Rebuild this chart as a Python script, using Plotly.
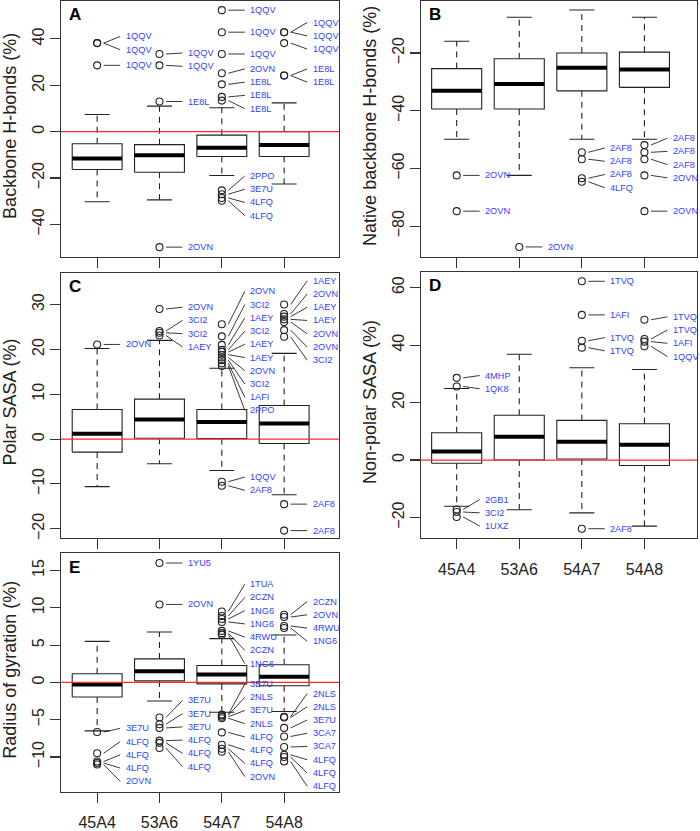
import plotly.graph_objects as go

categories = ["45A4", "53A6", "54A7", "54A8"]

# ---------- Panel A: Backbone H-bonds (%) ----------
A_low = [-30.2, -29.4, -18.9, -22.6]
A_q1 = [-16.3, -17.5, -10.7, -10.7]
A_med = [-11.6, -10.2, -6.9, -5.7]
A_q3 = [-5.2, -5.6, -1.5, 0.0]
A_high = [7.4, 11.0, 10.3, 12.4]
A_out = [[38.2, 38.2, 28.6],
         [33.5, 28.6, 13.0, -49.8],
         [52.4, 42.9, 33.5, 25.2, 20.4, 15.0, 13.4, -25.3, -27.0, -28.6, -29.8],
         [42.9, 42.9, 38.2, 24.2, 24.2]]
A_names = [["1QQV", "1QQV", "1QQV"],
           ["1QQV", "1QQV", "1E8L", "2OVN"],
           ["1QQV", "1QQV", "1QQV", "2OVN", "1E8L", "1E8L", "1E8L", "2PPO", "3E7U", "4LFQ", "4LFQ"],
           ["1QQV", "1QQV", "1QQV", "1E8L", "1E8L"]]

# ---------- Panel B: Native backbone H-bonds (%) ----------
B_low = [-49.9, -62.4, -49.9, -49.9]
B_q1 = [-39.4, -39.4, -33.1, -31.9]
B_med = [-33.1, -30.7, -25.1, -25.7]
B_q3 = [-25.4, -22.0, -20.0, -19.7]
B_high = [-15.9, -7.6, -5.1, -7.6]
B_out = [[-62.4, -74.8],
         [-87.2],
         [-54.4, -56.8, -63.4, -64.6],
         [-51.9, -54.4, -56.8, -62.4, -74.8]]
B_names = [["2OVN", "2OVN"],
           ["2OVN"],
           ["2AF8", "2AF8", "2AF8", "4LFQ"],
           ["2AF8", "2AF8", "2AF8", "2OVN", "2OVN"]]

# ---------- Panel C: Polar SASA (%) ----------
C_low = [-10.6, -5.5, -7.0, -12.4]
C_q1 = [-2.9, 0.2, 0.1, -1.0]
C_med = [1.2, 4.35, 3.8, 3.5]
C_q3 = [6.6, 8.9, 6.6, 7.5]
C_high = [20.2, 22.0, 15.8, 19.1]
C_out = [[21.1],
         [29.0, 24.1, 23.7, 23.1],
         [25.6, 22.9, 21.0, 19.9, 19.4, 18.8, 18.2, 17.6, 16.9, 16.3, -9.5, -10.4],
         [30.0, 27.9, 27.3, 26.7, 26.1, 24.3, 22.8, -14.5, -20.4]]
C_names = [["2OVN"],
           ["2OVN", "3CI2", "3CI2", "1AEY"],
           ["2OVN", "3CI2", "1AEY", "3CI2", "1AEY", "1AEY", "2OVN", "3CI2", "1AFI", "2PPO", "1QQV", "2AF8"],
           ["1AEY", "2OVN", "1AEY", "1AEY", "2OVN", "2OVN", "3CI2", "2AF8", "2AF8"]]

# ---------- Panel D: Non-polar SASA (%) ----------
D_low = [-16.1, -17.3, -18.4, -23.0]
D_q1 = [-1.1, 0.0, 0.35, -1.9]
D_med = [3.0, 8.1, 6.4, 5.3]
D_q3 = [9.5, 15.6, 13.8, 12.6]
D_high = [24.9, 36.8, 32.1, 31.5]
D_out = [[28.6, 25.6, -17.2, -18.1, -19.8],
         [],
         [62.2, 50.5, 41.5, 39.1, -23.9],
         [48.8, 42.1, 41.2, 39.6]]
D_names = [["4MHP", "1QK8", "2GB1", "3CI2", "1UXZ"],
           [],
           ["1TVQ", "1AFI", "1TVQ", "1TVQ", "2AF8"],
           ["1TVQ", "1TVQ", "1AFI", "1QQV"]]

# ---------- Panel E: Radius of gyration (%) ----------
E_low = [-6.5, -2.5, -4.0, -3.9]
E_q1 = [-1.95, 0.2, -0.2, -0.44]
E_med = [-0.27, 1.5, 1.07, 0.76]
E_q3 = [1.15, 3.15, 2.27, 2.36]
E_high = [5.5, 6.75, 5.87, 6.36]
E_out = [[-6.65, -9.5, -10.6, -10.8, -11.0],
         [16.0, 10.45, -4.7, -5.6, -6.1, -7.8, -8.1, -8.8],
         [9.5, 8.9, 8.5, 8.1, 6.9, 6.6, 6.4, -4.3, -4.4, -4.6, -4.8, -6.7, -8.35, -8.9, -9.3],
         [9.07, 8.76, 7.56, 7.3, -4.6, -4.7, -6.1, -7.25, -8.65, -9.7, -10.0, -10.6]]
E_names = [["3E7U", "4LFQ", "4LFQ", "4LFQ", "2OVN"],
           ["1YU5", "2OVN", "3E7U", "3E7U", "3E7U", "4LFQ", "4LFQ", "4LFQ"],
           ["1TUA", "2CZN", "1NG6", "1NG6", "4RWU", "2CZN", "1NG6",
            "3E7U", "2NLS", "3E7U", "2NLS", "4LFQ", "4LFQ", "4LFQ", "2OVN"],
           ["2CZN", "2OVN", "4RWU", "1NG6",
            "2NLS", "2NLS", "3E7U", "3CA7", "3CA7", "4LFQ", "4LFQ", "4LFQ"]]

W, H = 700, 831
FONT = "Liberation Sans, Arial, Helvetica, sans-serif"
LABEL_BLUE = "#2f3fff"

panels = [
    dict(key="A", title="Backbone H-bonds (%)", low=A_low, q1=A_q1, med=A_med, q3=A_q3, high=A_high,
         out=A_out, names=A_names, xpx=(61, 339), ypx=(1, 258), xr=(0.42, 4.88), yr=(-53.95, 56.35),
         yt=[-40, -20, 0, 20, 40], xlab=False),
    dict(key="B", title="Native backbone H-bonds (%)", low=B_low, q1=B_q1, med=B_med, q3=B_q3, high=B_high,
         out=B_out, names=B_names, xpx=(421, 697), ypx=(1, 258), xr=(0.43, 4.84), yr=(-90.6, -1.97),
         yt=[-80, -60, -40, -20], xlab=False),
    dict(key="C", title="Polar SASA (%)", low=C_low, q1=C_q1, med=C_med, q3=C_q3, high=C_high,
         out=C_out, names=C_names, xpx=(61, 339), ypx=(274, 541), xr=(0.42, 4.88), yr=(-22.14, 37.1),
         yt=[-20, -10, 0, 10, 20, 30], xlab=False),
    dict(key="D", title="Non-polar SASA (%)", low=D_low, q1=D_q1, med=D_med, q3=D_q3, high=D_high,
         out=D_out, names=D_names, xpx=(421, 697), ypx=(273, 541), xr=(0.43, 4.84), yr=(-27.27, 65.54),
         yt=[-20, 0, 20, 40, 60], xlab=True),
    dict(key="E", title="Radius of gyration (%)", low=E_low, q1=E_q1, med=E_med, q3=E_q3, high=E_high,
         out=E_out, names=E_names, xpx=(61, 339), ypx=(556, 796), xr=(0.42, 4.88), yr=(-14.71, 17.3),
         yt=[-10, -5, 0, 5, 10, 15], xlab=True),
]


def pack_labels(ys_px, d):
    """Spread label positions (screen px, increasing downward) with minimal spacing d,
    each cluster centred on the mean of its points."""
    order = sorted(range(len(ys_px)), key=lambda i: ys_px[i])
    clusters = []
    for i in order:
        clusters.append([ys_px[i]])
        while len(clusters) > 1:
            a, b = clusters[-2], clusters[-1]
            ca = sum(a) / len(a)
            cb = sum(b) / len(b)
            bottom_a = ca + (len(a) - 1) * d / 2
            top_b = cb - (len(b) - 1) * d / 2
            if top_b - bottom_a < d:
                clusters[-2] = a + b
                clusters.pop()
            else:
                break
    res = []
    for c in clusters:
        m = sum(c) / len(c)
        n = len(c)
        for k in range(n):
            res.append(m + (k - (n - 1) / 2) * d)
    out = [0] * len(ys_px)
    for pos, i in zip(res, order):
        out[i] = pos
    return out


fig = go.Figure()
annotations = []
shapes = []
layout = {}

BOXW = 0.4
CAPW = 0.2
SPACING = 13.3

for pi, p in enumerate(panels):
    n = pi + 1
    xa = "x" if n == 1 else f"x{n}"
    ya = "y" if n == 1 else f"y{n}"
    x0, x1 = p["xpx"]
    y0, y1 = p["ypx"]
    sx = (x1 - x0) / (p["xr"][1] - p["xr"][0])
    sy = (y1 - y0) / (p["yr"][1] - p["yr"][0])

    bx, by, mx, my, wx, wy, cx, cy = [], [], [], [], [], [], [], []
    for i in range(4):
        c = i + 1
        bx += [c - BOXW, c + BOXW, c + BOXW, c - BOXW, c - BOXW, None]
        by += [p["q1"][i], p["q1"][i], p["q3"][i], p["q3"][i], p["q1"][i], None]
        mx += [c - BOXW, c + BOXW, None]
        my += [p["med"][i], p["med"][i], None]
        wx += [c, c, None, c, c, None]
        wy += [p["q3"][i], p["high"][i], None, p["q1"][i], p["low"][i], None]
        cx += [c - CAPW, c + CAPW, None, c - CAPW, c + CAPW, None]
        cy += [p["high"][i], p["high"][i], None, p["low"][i], p["low"][i], None]

    common = dict(xaxis=xa, yaxis=ya, showlegend=False, hoverinfo="skip")
    fig.add_trace(go.Scatter(x=wx, y=wy, mode="lines", line=dict(color="#222", width=1.1, dash="6px,5px"), **common))
    fig.add_trace(go.Scatter(x=cx, y=cy, mode="lines", line=dict(color="#222", width=1.1), **common))
    fig.add_trace(go.Scatter(x=bx, y=by, mode="lines", fill="toself", fillcolor="white",
                             line=dict(color="#222", width=1.1), **common))
    fig.add_trace(go.Scatter(x=mx, y=my, mode="lines", line=dict(color="black", width=4), **common))

    # outliers + labels
    ox, oy, lx, ly = [], [], [], []
    for i in range(4):
        c = i + 1
        vals = p["out"][i]
        names = p["names"][i]
        if not vals:
            continue
        ups = [k for k, v in enumerate(vals) if v > p["med"][i]]
        dns = [k for k, v in enumerate(vals) if v <= p["med"][i]]
        for idxs in (ups, dns):
            if not idxs:
                continue
            pix = [(p["yr"][1] - vals[k]) * sy for k in idxs]
            packed = pack_labels(pix, SPACING)
            for k, ppx in zip(idxs, packed):
                v = vals[k]
                lv = p["yr"][1] - ppx / sy
                ox.append(c)
                oy.append(v)
                lx += [c + 6.5 / sx, c + 23 / sx, None]
                ly += [v, lv, None]
                annotations.append(dict(x=c + 26.5 / sx, y=lv, xref=xa, yref=ya, text=names[k],
                                        showarrow=False, xanchor="left", yanchor="middle",
                                        font=dict(family=FONT, size=9.2, color=LABEL_BLUE)))
    fig.add_trace(go.Scatter(x=lx, y=ly, mode="lines", line=dict(color="#222", width=0.9), **common))
    fig.add_trace(go.Scatter(x=ox, y=oy, mode="markers",
                             marker=dict(symbol="circle-open", size=7, color="#222", line=dict(width=1.1)),
                             **common))

    # red zero line
    shapes.append(dict(type="line", xref=f"{xa} domain", yref=ya, x0=0, x1=1, y0=0, y1=0,
                       line=dict(color="#ff2a2a", width=1.2), layer="above"))

    axis_common = dict(showline=True, mirror=True, linecolor="#333", linewidth=1.1, ticks="outside",
                       ticklen=10, tickcolor="#333", tickwidth=1.1, showgrid=False, zeroline=False,
                       tickfont=dict(family=FONT, size=16, color="#222"))
    xkey = "xaxis" if n == 1 else f"xaxis{n}"
    ykey = "yaxis" if n == 1 else f"yaxis{n}"
    layout[xkey] = dict(domain=[x0 / W, x1 / W], range=list(p["xr"]), anchor=ya,
                        tickvals=[1, 2, 3, 4], ticktext=categories, showticklabels=p["xlab"],
                        ticklabelstandoff=6, **axis_common)
    layout[ykey] = dict(domain=[1 - y1 / H, 1 - y0 / H], range=list(p["yr"]), anchor=xa,
                        tickvals=p["yt"], tickangle=-90, **axis_common)

    # axis title
    annotations.append(dict(x=(x0 - 51) / W, y=1 - ((y0 + y1) / 2 - 3) / H, xref="paper", yref="paper",
                            text=p["title"], textangle=-90, showarrow=False, xanchor="center",
                            yanchor="middle", font=dict(family=FONT, size=18, color="#222")))
    # panel letter
    annotations.append(dict(x=(x0 + 6) / W, y=1 - (y0 + 14) / H, xref="paper", yref="paper",
                            text=f"<b>{p['key']}</b>", showarrow=False, xanchor="left", yanchor="middle",
                            font=dict(family=FONT, size=17, color="black")))

fig.update_layout(width=W, height=H, margin=dict(l=0, r=0, t=0, b=0),
                  paper_bgcolor="white", plot_bgcolor="white", hovermode=False,
                  annotations=annotations, shapes=shapes, **layout)

fig.write_html("out.html", config={"displayModeBar": False, "staticPlot": True},
               post_script="document.body.style.margin='0';document.body.style.overflow='hidden';")
